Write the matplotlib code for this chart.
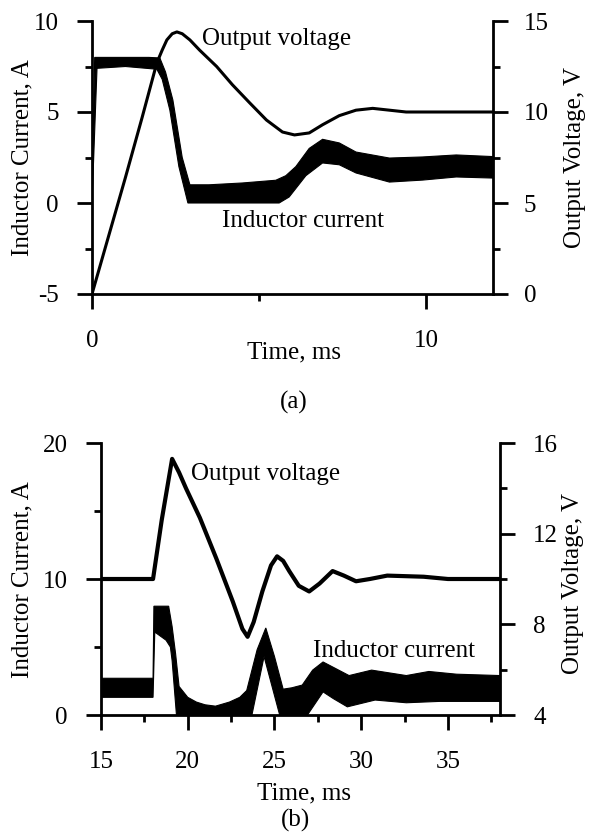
import numpy as np
import matplotlib
matplotlib.use("Agg")
import matplotlib.pyplot as plt
from matplotlib.ticker import MultipleLocator, FixedLocator

plt.rcParams['font.family'] = ['Liberation Serif', 'DejaVu Serif']
plt.rcParams['font.size'] = 18

# ---------------- Panel (a) data ----------------
a_v_t = [0, 0.5, 1.0, 1.5, 1.94, 2.1, 2.24, 2.4, 2.54, 2.7, 2.93, 3.22, 3.73, 4.2,
         4.72, 5.22, 5.7, 6.06, 6.5, 6.9, 7.4, 7.9, 8.4, 8.9, 9.4, 10, 11, 12]
a_v = [0, 3.2, 6.4, 9.7, 12.7, 13.4, 13.96, 14.3, 14.4, 14.3, 13.96, 13.4, 12.5, 11.5,
       10.5, 9.56, 8.9, 8.74, 8.85, 9.3, 9.8, 10.1, 10.2, 10.1, 10.0, 10.0, 10.0, 10.0]

a_ihi_t = [0, 0.08, 0.3, 1.0, 1.7, 2.03, 2.2, 2.42, 2.7, 2.93, 3.5, 4.5, 5.5, 5.8,
           6.1, 6.5, 6.9, 7.4, 7.9, 8.9, 9.9, 10.9, 12]
a_ihi = [0, 8.0, 8.0, 8.0, 8.0, 7.97, 7.2, 5.66, 2.5, 1.0, 1.0, 1.1, 1.25, 1.5,
         2.0, 3.0, 3.5, 3.3, 2.8, 2.47, 2.53, 2.64, 2.55]
a_ilo_t = [0, 0.15, 1.0, 1.94, 2.1, 2.33, 2.6, 2.87, 5.6, 5.9, 6.4, 6.9, 7.4, 7.9,
           8.9, 9.9, 10.9, 12]
a_ilo = [0, 7.4, 7.5, 7.35, 6.8, 5.1, 2.0, 0.0, 0.0, 0.33, 1.5, 2.2, 2.1, 1.65,
         1.15, 1.26, 1.43, 1.37]

# ---------------- Panel (b) data ----------------
b_v_t = [15, 18.0, 18.5, 19.1, 19.5, 19.9, 20.7, 21.65, 22.6, 23.15, 23.45, 23.8, 24.3,
         24.8, 25.15, 25.5, 25.85, 26.4, 27.0, 27.6, 28.35, 29.0, 29.7, 30.5, 31.5,
         33.6, 35, 38]
b_v = [10, 10, 12.6, 15.3, 14.7, 14.0, 12.7, 10.9, 9.0, 7.8, 7.45, 8.1, 9.45,
       10.6, 11.0, 10.8, 10.35, 9.7, 9.45, 9.8, 10.35, 10.15, 9.9, 10.0, 10.15,
       10.1, 10.0, 10.0]

b_ihi_t = [15, 18.0, 18.05, 18.9, 19.1, 19.3, 19.5, 20.0, 20.5, 21.0, 21.6, 22.4, 23.0,
           23.4, 24.0, 24.5, 25.0, 25.5, 26.0, 26.6, 27.2, 27.8, 28.4, 29.3, 30.6,
           31.6, 32.6, 33.9, 35.5, 38]
b_ihi = [2.7, 2.7, 8.0, 8.0, 6.5, 4.5, 2.1, 1.3, 0.95, 0.75, 0.65, 0.95, 1.3,
         1.8, 4.8, 6.4, 4.3, 1.9, 2.0, 2.2, 3.3, 3.9, 3.5, 2.9, 3.3,
         3.1, 2.9, 3.2, 3.0, 2.9]
b_ilo_t = [15, 18.0, 18.1, 18.75, 19.0, 19.1, 19.35, 23.7, 24.4, 25.3, 26.9, 27.8,
           28.4, 29.2, 30.8, 32.6, 34.5, 38]
b_ilo = [1.3, 1.3, 6.1, 5.5, 5.0, 4.0, 0.0, 0.0, 4.3, 0.0, 0.0, 1.7,
         1.2, 0.6, 1.1, 0.9, 1.0, 1.0]

a_xticks = [0, 10]
b_xticks = [15, 20, 25, 30, 35]

W, H = 589, 835
fig = plt.figure(figsize=(W / 100, H / 100), dpi=100)


def px_axes(x0, x1, ytop, ybot):
    return fig.add_axes([x0 / W, 1 - ybot / H, (x1 - x0) / W, (ybot - ytop) / H])


def style(ax, ax2, xmaj, xmin, ymaj, ymin, y2maj, y2min, lpad, rpad, xpad):
    for s in ['top', 'right']:
        ax.spines[s].set_visible(False)
    for s in ['top', 'left', 'bottom']:
        ax2.spines[s].set_visible(False)
    for sp in [ax.spines['left'], ax.spines['bottom'], ax2.spines['right']]:
        sp.set_linewidth(2.0)
    ax.xaxis.set_major_locator(FixedLocator(xmaj))
    ax.xaxis.set_minor_locator(MultipleLocator(xmin))
    ax.yaxis.set_major_locator(MultipleLocator(ymaj))
    ax.yaxis.set_minor_locator(MultipleLocator(ymin))
    ax2.yaxis.set_major_locator(MultipleLocator(y2maj))
    ax2.yaxis.set_minor_locator(MultipleLocator(y2min))
    for a in (ax, ax2):
        a.tick_params(which='major', direction='out', length=11, width=2, labelsize=18)
        a.tick_params(which='minor', direction='out', length=5, width=2)
    ax.tick_params(axis='y', pad=lpad)
    ax2.tick_params(axis='y', pad=rpad)
    ax.tick_params(axis='x', pad=xpad)


# ---------------- Panel (a) ----------------
axa = px_axes(92, 493, 21, 294)
axa2 = axa.twinx()
axa.set_xlim(0, 12)
axa.set_ylim(-5, 10)
axa2.set_ylim(0, 15)
axa.fill(np.r_[a_ihi_t, a_ilo_t[::-1]], np.r_[a_ihi, a_ilo[::-1]],
         color='black', lw=0.8)
axa2.plot(a_v_t, a_v, color='black', lw=2.2, solid_joinstyle='round')
style(axa, axa2, a_xticks, 5, 5, 2.5, 5, 2.5, lpad=13, rpad=11, xpad=15)
axa.set_yticks([-5, 0, 5, 10])
axa.set_yticklabels(['-5', '0', '5', '10'])
axa.text(3.28, 8.68, 'Output voltage', ha='left', va='baseline', fontsize=18)
axa.text(3.88, -1.32, 'Inductor current', ha='left', va='baseline', fontsize=18)

fig.text(294 / W, 1 - 352 / H, 'Time, ms', ha='center', va='center', fontsize=18)
fig.text(294 / W, 1 - 402 / H, '(a)', ha='center', va='center', fontsize=18)
fig.text(22 / W, 1 - 158 / H, 'Inductor Current, A', ha='center', va='center',
         rotation=90, fontsize=18)
fig.text(575 / W, 1 - 158 / H, 'Output Voltage, V', ha='center', va='center',
         rotation=90, fontsize=18)

# ---------------- Panel (b) ----------------
axb = px_axes(101, 500, 443, 715)
axb2 = axb.twinx()
axb.set_xlim(15, 38)
axb.set_ylim(0, 20)
axb2.set_ylim(4, 16)
axb.fill(np.r_[b_ihi_t, b_ilo_t[::-1]], np.r_[b_ihi, b_ilo[::-1]],
         color='black', lw=0.8)
axb2.plot(b_v_t, b_v, color='black', lw=3.0, solid_joinstyle='round')
style(axb, axb2, b_xticks, 2.5, 10, 5, 4, 2, lpad=13, rpad=13, xpad=15)
axb.text(20.2, 17.3, 'Output voltage', ha='left', va='baseline', fontsize=18)
axb.text(27.2, 4.26, 'Inductor current', ha='left', va='baseline', fontsize=18)

fig.text(304 / W, 1 - 793 / H, 'Time, ms', ha='center', va='center', fontsize=18)
fig.text(296 / W, 1 - 820 / H, '(b)', ha='center', va='center', fontsize=18)
fig.text(22 / W, 1 - 580 / H, 'Inductor Current, A', ha='center', va='center',
         rotation=90, fontsize=18)
fig.text(573 / W, 1 - 583 / H, 'Output Voltage, V', ha='center', va='center',
         rotation=90, fontsize=18)

fig.savefig('out.png', dpi=100, facecolor='white')
